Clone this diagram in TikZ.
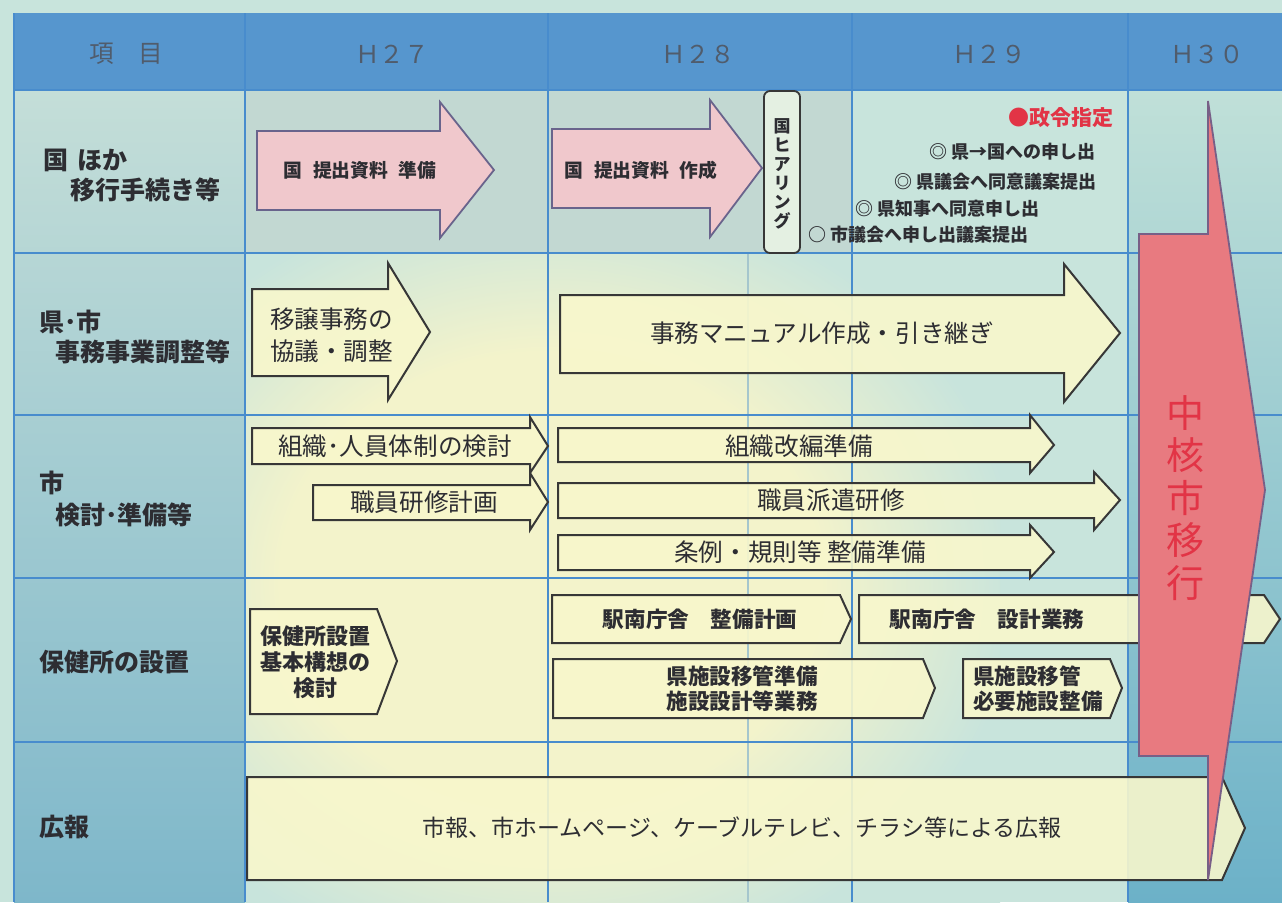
\documentclass[tikz,border=0pt]{standalone}
\usepackage{fontspec}
\setmainfont{Noto Sans CJK JP}

\definecolor{bgteal}{RGB}{200,228,220}
\definecolor{rowgray}{RGB}{194,216,210}
\definecolor{paleyel}{RGB}{243,243,203}
\definecolor{coltop}{RGB}{196,222,216}
\definecolor{colbot}{RGB}{126,183,202}
\definecolor{rtop}{RGB}{192,224,216}
\definecolor{rbot}{RGB}{108,177,200}
\definecolor{headblue}{RGB}{86,150,206}
\definecolor{headtext}{RGB}{80,92,108}
\definecolor{tblue}{RGB}{72,140,205}
\definecolor{faintline}{RGB}{165,198,205}
\definecolor{pinkfill}{RGB}{240,200,204}
\definecolor{pinkline}{RGB}{105,100,140}
\definecolor{yelfill}{RGB}{248,247,204}
\definecolor{darkline}{RGB}{55,55,55}
\definecolor{hearfill}{RGB}{228,240,226}
\definecolor{redfill}{RGB}{232,122,128}
\definecolor{redline}{RGB}{120,95,135}
\definecolor{redtext}{RGB}{226,52,70}
\definecolor{txt}{RGB}{45,45,50}

\pgfdeclareradialshading{glow}{\pgfpoint{0bp}{0bp}}{color(0bp)=(paleyel); color(15bp)=(paleyel); color(26bp)=(bgteal); color(50bp)=(bgteal)}

\begin{document}
\begin{tikzpicture}[x=0.5pt, y=-0.5pt,
  tline/.style={draw=tblue, line width=0.8pt},
  pinkarrow/.style={fill=pinkfill, draw=pinkline, line width=0.9pt},
  yelarrow/.style={fill=yelfill, fill opacity=0.9, draw=darkline, draw opacity=1, line width=1pt},
  redarrow/.style={fill=redfill, draw=redline, line width=0.9pt},
  rowlab/.style={anchor=west, inner sep=0pt, text=txt, font=\bfseries\fontsize{12.5}{15}\selectfont},
  yeartext/.style={text=headtext, font=\fontsize{12.3}{15}\selectfont},
  pinktext/.style={text=txt, font=\bfseries\fontsize{9.4}{11}\selectfont},
  note/.style={anchor=west, inner sep=0pt, text=txt, font=\bfseries\fontsize{9}{11}\selectfont},
  bigtext/.style={text=txt, font=\fontsize{12.3}{16}\selectfont},
  boxtext/.style={text=txt, align=center, font=\bfseries\fontsize{10.8}{12.5}\selectfont},
]
\useasboundingbox (0,0) rectangle (1282,902);

% background
\fill[bgteal] (0,0) rectangle (1282,902);
\fill[rowgray] (245,90) rectangle (852,253);
\shade[top color=coltop, bottom color=colbot] (14,90) rectangle (245,902);
\shade[top color=rtop, bottom color=rbot] (1128,90) rectangle (1282,902);
\begin{scope}
\clip (245,253) rectangle (1128,902);
\shade[shading=glow] (100,200) rectangle (1000,960);
\end{scope}

% header
\fill[headblue] (14,13) rectangle (1282,90);
\node[yeartext] (item) at (126,54) {項　目};
\node[yeartext] (h27) at (392,54) {Ｈ２７};
\node[yeartext] (h28) at (698,54) {Ｈ２８};
\node[yeartext] (h29) at (989,54) {Ｈ２９};
\node[yeartext] (h30) at (1207,54) {Ｈ３０};

% grid
\foreach \x in {14,245,548,852,1128}
  \draw[tline] (\x,13) -- (\x,902);
\draw[tline, draw=faintline] (748,253) -- (748,902);
\foreach \y in {90,253,415,578,742}
  \draw[tline] (14,\y) -- (1282,\y);

% row labels
\node[rowlab] (r1a) at (43,160) {国\hspace{.35em}ほか};
\node[rowlab] (r1b) at (70,190) {移行手続き等};
\node[rowlab] (r2a) at (39,322) {県･市};
\node[rowlab] (r2b) at (55,352) {事務事業調整等};
\node[rowlab] (r3a) at (39,483) {市};
\node[rowlab] (r3b) at (55,515) {検討･準備等};
\node[rowlab] (r4) at (39,662) {保健所の設置};
\node[rowlab] (r5) at (39,827) {広報};

% row 1
\draw[pinkarrow] plot coordinates {(257,131) (440,131) (440,102) (494,170) (440,238) (440,210) (257,210)} -- cycle;
\node[pinktext] (prep) at (360,170) {国\hspace{.55em}提出資料\hspace{.55em}準備};
\draw[pinkarrow] plot coordinates {(552,129) (710,129) (710,100) (762,168) (710,237) (710,208) (552,208)} -- cycle;
\node[pinktext] (make) at (641,170) {国\hspace{.55em}提出資料\hspace{.55em}作成};
\draw[fill=hearfill, draw=darkline, line width=0.9pt, rounded corners=3pt] (764,91) rectangle (800,253);
\node[text=txt, align=center, font=\bfseries\fontsize{8.5}{9.5}\selectfont] (hearing) at (782,174) {国\\ヒ\\ア\\リ\\ン\\グ};
\node[note, text=redtext, font=\bfseries\fontsize{10.5}{12}\selectfont] (seirei) at (1008,118) {●政令指定};
\node[note] (n1) at (929,152) {◎ 県→国への申し出};
\node[note] (n2) at (894,182) {◎ 県議会へ同意議案提出};
\node[note] (n3) at (855,209) {◎ 県知事へ同意申し出};
\node[note] (n4) at (808,235) {○ 市議会へ申し出議案提出};

% row 2
\draw[yelarrow] plot coordinates {(252,289) (388,289) (388,263) (430,332) (388,400) (388,376) (252,376)} -- cycle;
\node[bigtext, anchor=west, align=left] (kyogi) at (263,335) {移譲事務の\\協議・調整};
\draw[yelarrow] plot coordinates {(560,295) (1064,295) (1064,264) (1120,333) (1064,402) (1064,373) (560,373)} -- cycle;
\node[bigtext] (manual) at (822,333) {事務マニュアル作成・引き継ぎ};

% row 3
\draw[yelarrow] plot coordinates {(252,428) (530,428) (530,417) (548,446) (530,473) (530,464) (252,464)} -- cycle;
\node[bigtext] (soshiki) at (395,446) {組織･人員体制の検討};
\draw[yelarrow] plot coordinates {(313,485) (530,485) (530,473) (548,502) (530,530) (530,520) (313,520)} -- cycle;
\node[bigtext] (kenshu) at (424,502) {職員研修計画};
\draw[yelarrow] plot coordinates {(558,428) (1030,428) (1030,415) (1054,445) (1030,473) (1030,462) (558,462)} -- cycle;
\node[bigtext] (kaihen) at (799,446) {組織改編準備};
\draw[yelarrow] plot coordinates {(558,483) (1094,483) (1094,472) (1120,500) (1094,530) (1094,518) (558,518)} -- cycle;
\node[bigtext] (haken) at (831,500) {職員派遣研修};
\draw[yelarrow] plot coordinates {(558,535) (1030,535) (1030,525) (1054,552) (1030,578) (1030,570) (558,570)} -- cycle;
\node[bigtext] (jorei) at (800,552) {条例・規則等 整備準備};

% row 4
\draw[yelarrow] plot coordinates {(250,609) (377,609) (397,661) (377,714) (250,714)} -- cycle;
\node[boxtext, font=\bfseries\fontsize{11}{13}\selectfont] (kihon) at (315,662) {保健所設置\\基本構想の\\検討};
\draw[yelarrow] plot coordinates {(552,595) (840,595) (851,619) (840,643) (552,643)} -- cycle;
\node[boxtext] (seibi) at (700,619) {駅南庁舎　整備計画};
\draw[yelarrow] plot coordinates {(859,595) (1264,595) (1280,619) (1264,643) (859,643)} -- cycle;
\node[boxtext] (sekkei) at (987,619) {駅南庁舎　設計業務};
\draw[yelarrow] plot coordinates {(553,659) (923,659) (935,688) (923,718) (553,718)} -- cycle;
\node[boxtext] (ikan) at (742,689) {県施設移管準備\\施設設計等業務};
\draw[yelarrow] plot coordinates {(963,659) (1110,659) (1122,688) (1110,718) (963,718)} -- cycle;
\node[boxtext, anchor=west, align=left] (hitsuyo) at (966,689) {県施設移管\\必要施設整備};

% row 5
\draw[yelarrow] plot coordinates {(247,777) (1222,777) (1245,828) (1222,880) (247,880)} -- cycle;
\node[bigtext, font=\fontsize{11.5}{14}\selectfont] (koho) at (742,828) {市報、市ホームページ、ケーブルテレビ、チラシ等による広報};

% H30
\draw[redarrow] plot coordinates {(1139,234) (1208,234) (1208,101) (1265,490) (1208,880) (1208,756) (1139,756)} -- cycle;
\node[text=redtext, align=center, font=\fontsize{19}{21.2}\selectfont] (chukaku) at (1185,498) {中\\核\\市\\移\\行};
\end{tikzpicture}
\end{document}
